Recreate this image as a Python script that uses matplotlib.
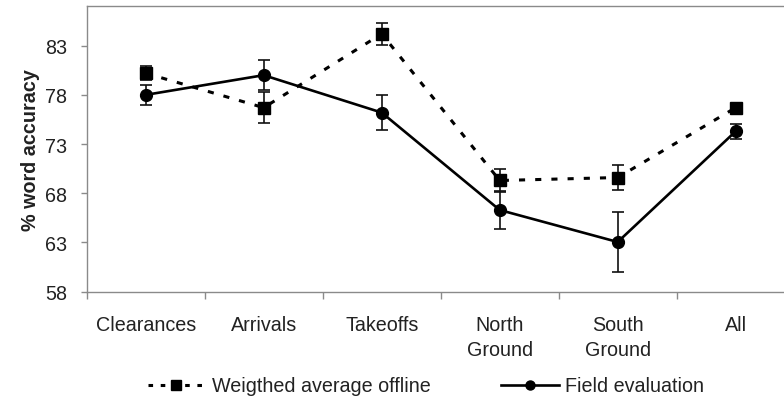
import matplotlib
matplotlib.use("Agg")
import matplotlib.pyplot as plt
from matplotlib.ticker import FixedLocator, NullFormatter
from matplotlib.lines import Line2D
import numpy as np

categories = ["Clearances", "Arrivals", "Takeoffs", "North\nGround", "South\nGround", "All"]
offline = [80.2, 76.7, 84.2, 69.3, 69.6, 76.7]
offline_err = [0.7, 1.55, 1.1, 1.2, 1.3, 0.4]
field = [78.0, 80.0, 76.2, 66.3, 63.05, 74.3]
field_err = [1.0, 1.5, 1.75, 1.9, 3.0, 0.75]
yticks = [58, 63, 68, 73, 78, 83]
series_names = ['Weigthed average offline', 'Field evaluation']

plt.rcParams['font.family'] = ['Liberation Sans', 'DejaVu Sans']
txt = '#222222'
spine_c = '#8a8a8a'

fig = plt.figure(figsize=(7.84, 4.02), dpi=100)
ax = fig.add_axes([86.7/784, 1-292.7/402, 708/784, (292.7-7)/402])

x = np.arange(len(categories))
ax.errorbar(x, offline, yerr=offline_err, color='black', lw=2.2,
            linestyle=(0, (2, 3.3)), marker='s', markersize=8,
            ecolor='#111111', elinewidth=1.2, capsize=4, capthick=1.2, zorder=3)
ax.errorbar(x, field, yerr=field_err, color='black', lw=1.9,
            linestyle='-', marker='o', markersize=8.5,
            ecolor='#111111', elinewidth=1.2, capsize=4, capthick=1.2, zorder=4)

ax.set_xlim(-0.5, 5.5)
ax.set_ylim(58, 87.03)
ax.set_yticks(yticks)
ax.set_yticklabels([str(v) for v in yticks], color=txt, fontsize=14.2)
ax.set_xticks(x)
ax.set_xticklabels(categories, color=txt, fontsize=14.2, linespacing=1.4)
ax.xaxis.set_minor_locator(FixedLocator(np.arange(-0.5, 6, 1.0)))
ax.xaxis.set_minor_formatter(NullFormatter())
ax.tick_params(axis='x', which='major', length=0, pad=17)
ax.tick_params(axis='x', which='minor', length=5, color=spine_c, width=1, direction='out')
ax.tick_params(axis='y', which='major', length=4, color=spine_c, width=1, direction='out', pad=10)

for s in ['left', 'bottom', 'top', 'right']:
    ax.spines[s].set_color(spine_c)
    ax.spines[s].set_linewidth(1.0)

ax.set_ylabel('% word accuracy', fontsize=14.2, fontweight='bold', color=txt)
ax.yaxis.set_label_coords(-0.066, 0.5)

h1 = Line2D([], [], color='black', lw=2.2, linestyle=(0, (1.5, 2.5)), marker='s', markersize=7)
h2 = Line2D([], [], color='black', lw=1.9, linestyle='-', marker='o', markersize=6.5)
leg = fig.legend([h1, h2], series_names, loc='center', bbox_to_anchor=(426/784, 1-387/402), ncol=2,
                 frameon=False, fontsize=14.2, handlelength=2.9, handletextpad=0.35,
                 columnspacing=3.6, borderpad=0)
for t in leg.get_texts():
    t.set_color(txt)

fig.savefig('out.png', dpi=100)
